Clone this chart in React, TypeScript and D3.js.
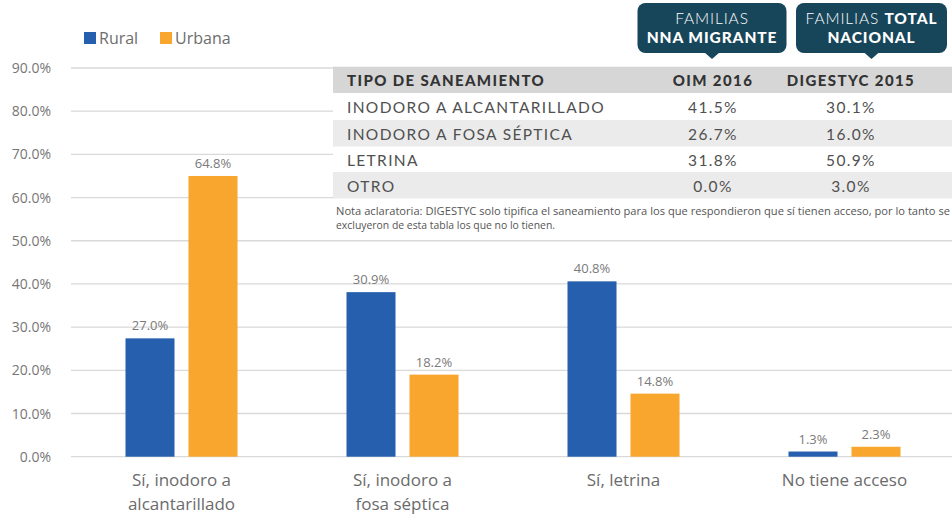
import React, { useEffect, useRef } from 'react';
import * as d3 from 'd3';

const categories = ['Sí, inodoro a|alcantarillado', 'Sí, inodoro a|fosa séptica', 'Sí, letrina', 'No tiene acceso'];
const series = ['Rural', 'Urbana'];
const seriesColors = ['#265fae', '#f8a62d'];
// bar heights as drawn in the picture, labels as printed
const ruralValues = [27.4, 38.1, 40.6, 1.2];
const urbanValues = [65.0, 19.0, 14.6, 2.3];
const ruralLabels = ['27.0%', '30.9%', '40.8%', '1.3%'];
const urbanLabels = ['64.8%', '18.2%', '14.8%', '2.3%'];
const yTicks = [0, 10, 20, 30, 40, 50, 60, 70, 80, 90];

const tableHeader = ['TIPO DE SANEAMIENTO', 'OIM 2016', 'DIGESTYC 2015'];
const tableTypes = ['INODORO A ALCANTARILLADO', 'INODORO A FOSA SÉPTICA', 'LETRINA', 'OTRO'];
const oim2016 = ['41.5%', '26.7%', '31.8%', '0.0%'];
const digestyc2015 = ['30.1%', '16.0%', '50.9%', '3.0%'];
const noteLines = [
  'Nota aclaratoria: DIGESTYC solo tipifica el saneamiento para los que respondieron que sí tienen acceso, por lo tanto se',
  'excluyeron de esta tabla los que no lo tienen.',
];

const W = 952;
const H = 514;
const FONT = "'Open Sans', sans-serif";
const TFONT = "Lato, 'Open Sans', sans-serif";

const App = () => {
  const ref = useRef<SVGSVGElement | null>(null);

  useEffect(() => {
    if (!ref.current) return;
    const svg = d3.select(ref.current);
    svg.selectAll('*').remove();

    const x = d3.scaleBand().domain(categories).range([71, 955]);
    const xInner = d3.scaleBand().domain(series).range([54.5, 166.5]).paddingInner(0.222);
    const y = d3.scaleLinear().domain([0, 90]).range([456.7, 68]);

    // gridlines
    svg.append('g')
      .selectAll('line')
      .data(yTicks)
      .join('line')
      .attr('x1', 71)
      .attr('x2', W)
      .attr('y1', (d) => y(d))
      .attr('y2', (d) => y(d))
      .attr('stroke', '#d9d9d9')
      .attr('stroke-width', 1.3);

    svg.append('g')
      .selectAll('text')
      .data(yTicks)
      .join('text')
      .attr('x', 51)
      .attr('y', (d) => y(d) + 5)
      .attr('text-anchor', 'end')
      .attr('fill', '#767676')
      .style('font-family', FONT)
      .style('font-size', '14px')
      .text((d) => d3.format('.1%')(d / 100));

    // bars
    const rows = categories.map((c, i) => ({ c, vals: [ruralValues[i], urbanValues[i]], labels: [ruralLabels[i], urbanLabels[i]] }));
    const groups = svg.append('g')
      .selectAll('g')
      .data(rows)
      .join('g')
      .attr('transform', (d) => `translate(${x(d.c)},0)`);

    groups.selectAll('rect')
      .data((d) => d.vals.map((v, j) => ({ s: series[j], v, j })))
      .join('rect')
      .attr('x', (d) => xInner(d.s)!)
      .attr('width', xInner.bandwidth())
      .attr('y', (d) => y(d.v))
      .attr('height', (d) => y(0) - y(d.v))
      .attr('fill', (d) => seriesColors[d.j]);

    groups.selectAll('text.val')
      .data((d) => d.vals.map((v, j) => ({ s: series[j], v, label: d.labels[j] })))
      .join('text')
      .attr('class', 'val')
      .attr('x', (d) => xInner(d.s)! + xInner.bandwidth() / 2)
      .attr('y', (d) => y(d.v) - 8)
      .attr('text-anchor', 'middle')
      .attr('fill', '#7a7a7a')
      .style('font-family', FONT)
      .style('font-size', '13px')
      .text((d) => d.label);

    // category labels
    const catLabels = svg.append('g')
      .selectAll('text')
      .data(categories)
      .join('text')
      .attr('x', (d) => x(d)! + x.bandwidth() / 2)
      .attr('y', 486)
      .attr('text-anchor', 'middle')
      .attr('fill', '#6b6b6b')
      .style('font-family', FONT)
      .style('font-size', '17px');
    catLabels.selectAll('tspan')
      .data((d) => d.split('|').map((t) => ({ t, cx: x(d)! + x.bandwidth() / 2 })))
      .join('tspan')
      .attr('x', (d) => d.cx)
      .attr('dy', (d, i) => (i === 0 ? 0 : 24))
      .text((d) => d.t);

    // legend
    const legend = svg.append('g').attr('transform', 'translate(84,32)');
    const legendX = [0, 76];
    series.forEach((s, i) => {
      legend.append('rect').attr('x', legendX[i]).attr('y', 0).attr('width', 12).attr('height', 12).attr('fill', seriesColors[i]);
      legend.append('text')
        .attr('x', legendX[i] + 15)
        .attr('y', 12)
        .attr('fill', '#6d6d6d')
        .style('font-family', FONT)
        .style('font-size', '16px')
        .text(s);
    });

    // table
    const table = svg.append('g');
    const colX = [347, 713, 851];
    const rowTop = [93, 120, 146, 172];
    const rowH = 26.5;
    table.append('rect').attr('x', 333).attr('y', 66.7).attr('width', W - 333).attr('height', 199 - 66.7).attr('fill', '#fff');
    table.append('rect').attr('x', 333).attr('y', 66.7).attr('width', W - 333).attr('height', 26.3).attr('fill', '#d6d6d6');
    tableHeader.forEach((h, i) => {
      table.append('text')
        .attr('x', colX[i])
        .attr('y', 85.5)
        .attr('text-anchor', i === 0 ? 'start' : 'middle')
        .attr('fill', '#333')
        .style('font-family', TFONT)
        .style('font-weight', 900)
        .style('font-size', '15px')
        .style('letter-spacing', '1.4px')
        .text(h);
    });
    tableTypes.forEach((t, i) => {
      if (i % 2 === 1) {
        table.append('rect').attr('x', 333).attr('y', rowTop[i]).attr('width', W - 333).attr('height', rowH).attr('fill', '#ebebeb');
      }
      [t, oim2016[i], digestyc2015[i]].forEach((v, k) => {
        table.append('text')
          .attr('x', colX[k])
          .attr('y', rowTop[i] + 19.5)
          .attr('text-anchor', k === 0 ? 'start' : 'middle')
          .attr('fill', '#505050')
          .style('font-family', TFONT)
          .style('font-weight', 400)
          .style('font-size', '15.5px')
          .style('letter-spacing', '1.35px')
          .text(v);
      });
    });
    const noteWidths = [614, 219];
    noteLines.forEach((n, i) => {
      table.append('text')
        .attr('x', 336)
        .attr('y', 215 + i * 14)
        .attr('textLength', noteWidths[i])
        .attr('lengthAdjust', 'spacingAndGlyphs')
        .attr('fill', '#555')
        .style('font-family', FONT)
        .style('font-size', '10.4px')
        .text(n);
    });

    // callouts
    const callouts = [
      { cx: 712, w: 149, lines: [[['FAMILIAS', 300]], [['NNA MIGRANTE', 900]]] },
      { cx: 871.5, w: 151, lines: [[['FAMILIAS ', 300], ['TOTAL', 900]], [['NACIONAL', 900]]] },
    ];
    callouts.forEach((c) => {
      const g = svg.append('g');
      const left = c.cx - c.w / 2;
      g.append('rect').attr('x', left).attr('y', 3).attr('width', c.w).attr('height', 50).attr('rx', 8).attr('fill', '#17465a');
      g.append('path')
        .attr('d', `M${c.cx - 8},52 L${c.cx},59 L${c.cx + 8},52 Z`)
        .attr('fill', '#17465a');
      c.lines.forEach((line, li) => {
        const t = g.append('text')
          .attr('x', c.cx)
          .attr('y', 24 + li * 19)
          .attr('text-anchor', 'middle')
          .attr('fill', '#fff')
          .style('font-family', TFONT)
          .style('font-size', '15.5px')
          .style('letter-spacing', '0.9px');
        line.forEach(([txt, wgt]) => {
          t.append('tspan').style('font-weight', wgt as number).text(txt as string);
        });
      });
    });
  }, []);

  return (
    <svg
      ref={ref}
      width={W}
      height={H}
      style={{ position: 'absolute', left: 0, top: 0, background: '#fff' }}
    />
  );
};

export default App;
